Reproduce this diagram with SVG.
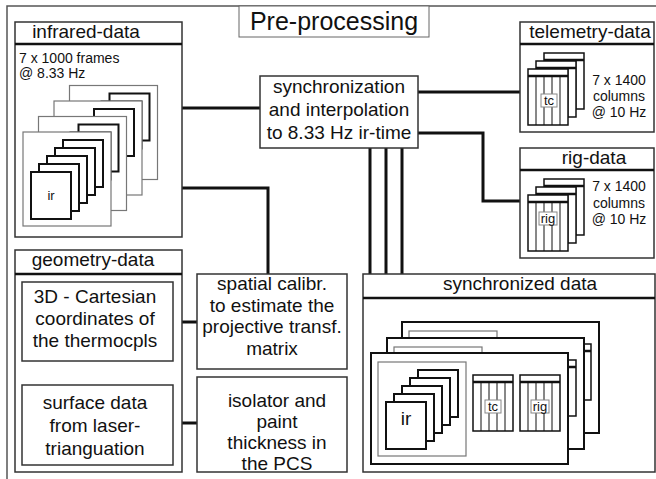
<svg xmlns="http://www.w3.org/2000/svg" xmlns:xlink="http://www.w3.org/1999/xlink" width="656" height="479" viewBox="0 0 656 479">
<style>
.box{fill:#fff;stroke:#333;stroke-width:1.5}
.hdr{stroke:#111;stroke-width:2.5}
.conn{stroke:#111;stroke-width:3;fill:none}
.gray{fill:#fff;stroke:#777;stroke-width:1.2}
.blk{fill:#fff;stroke:#111;stroke-width:2}
.sheet{fill:#fff;stroke:#111;stroke-width:1.5}
.col{stroke:#111;stroke-width:1}
.lab{fill:#fff;stroke:#888;stroke-width:1}
.t{font-family:"Liberation Sans",Arial,sans-serif;fill:#111}
.m{text-anchor:middle}
.f19{font-size:19px}
.f14{font-size:14px}
.f13{font-size:13px}
</style>
<defs>
<g id="irStack">
<rect class="gray" x="0" y="0" width="88" height="94"/>
<rect class="blk" x="40" y="8" width="40" height="47"/>
<rect class="blk" x="32" y="16" width="40" height="47"/>
<rect class="blk" x="24" y="24" width="40" height="47"/>
<rect class="blk" x="16" y="32" width="40" height="47"/>
<rect class="blk" x="8" y="40" width="40" height="47"/>
</g>
<g id="sheet">
<rect class="sheet" x="0" y="0" width="40" height="56"/>
<line class="hdr" x1="0" y1="7" x2="40" y2="7"/>
<path class="col" d="M8,7V56M16,7V56M24,7V56M32,7V56"/>
</g>
<g id="bigFrame">
<rect class="blk" x="0" y="0" width="197" height="111"/>
<use xlink:href="#irStack" x="7" y="9"/>
<use xlink:href="#sheet" x="102" y="22"/>
<use xlink:href="#sheet" x="149" y="22"/>
</g>
</defs>
<rect width="656" height="479" fill="#fff"/>
<path d="M7,479V6H656" fill="none" stroke="#555" stroke-width="1.5"/>

<g id="title">
<rect x="239" y="6" width="190" height="31" fill="#fff" stroke="#666" stroke-width="1"/>
<text class="t m" x="334" y="30" font-size="25">Pre-processing</text>
</g>

<g id="connectors">
<path class="conn" d="M182,108H260"/>
<path class="conn" d="M182,188H268V274"/>
<path class="conn" d="M418,92H520"/>
<path class="conn" d="M418,133H483V201H520"/>
<path class="conn" d="M370,148V274M386,148V274M402,148V274"/>
<path class="conn" d="M173,322H197"/>
<path class="conn" d="M173,423H197"/>
</g>

<g id="infrared-data">
<rect class="box" x="15" y="22" width="167" height="215"/>
<line class="hdr" x1="15" y1="44" x2="182" y2="44"/>
<text class="t m f19" x="86" y="38">infrared-data</text>
<text class="t f14" x="19" y="63">7 x 1000 frames</text>
<text class="t f14" x="19" y="78">@ 8.33 Hz</text>
<use xlink:href="#irStack" x="69.5" y="85.5"/>
<use xlink:href="#irStack" x="54" y="101"/>
<use xlink:href="#irStack" x="38.5" y="116.5"/>
<use xlink:href="#irStack" x="23" y="132"/>
<text class="t m f13" x="51" y="200">ir</text>
</g>

<g id="sync-process">
<rect class="box" x="260" y="76" width="158" height="72"/>
<text class="t m f19" x="339" y="93">synchronization</text>
<text class="t m f19" x="339" y="116">and interpolation</text>
<text class="t m f19" x="339" y="139">to 8.33 Hz ir-time</text>
</g>

<g id="telemetry-data">
<rect class="box" x="520" y="22" width="134" height="110"/>
<line class="hdr" x1="520" y1="44" x2="654" y2="44"/>
<text class="t m f19" x="590" y="38">telemetry-data</text>
<use xlink:href="#sheet" x="544" y="53"/>
<use xlink:href="#sheet" x="536" y="61"/>
<use xlink:href="#sheet" x="528" y="69"/>
<rect class="lab" x="541" y="94" width="16" height="13"/>
<text class="t m f13" x="549" y="105">tc</text>
<text class="t m f14" x="619" y="85">7 x 1400</text>
<text class="t m f14" x="619" y="101">columns</text>
<text class="t m f14" x="619" y="117">@ 10 Hz</text>
</g>

<g id="rig-data">
<rect class="box" x="520" y="148" width="134" height="110"/>
<line class="hdr" x1="520" y1="170" x2="654" y2="170"/>
<text class="t m f19" x="594" y="164">rig-data</text>
<use xlink:href="#sheet" x="544" y="179"/>
<use xlink:href="#sheet" x="536" y="187"/>
<use xlink:href="#sheet" x="528" y="195"/>
<rect class="lab" x="539" y="212" width="18" height="13"/>
<text class="t m f13" x="548" y="223">rig</text>
<text class="t m f14" x="619" y="191">7 x 1400</text>
<text class="t m f14" x="619" y="208">columns</text>
<text class="t m f14" x="619" y="224">@ 10 Hz</text>
</g>

<g id="geometry-data">
<rect class="box" x="15" y="250" width="167" height="222"/>
<line class="hdr" x1="15" y1="274" x2="182" y2="274"/>
<text class="t m f19" x="93" y="266">geometry-data</text>
</g>

<g id="cartesian">
<rect class="box" x="22" y="282" width="151" height="79"/>
<text class="t m f19" x="95" y="303">3D - Cartesian</text>
<text class="t m f19" x="95" y="325">coordinates of</text>
<text class="t m f19" x="95" y="347">the thermocpls</text>
</g>

<g id="surface">
<rect class="box" x="22" y="385" width="151" height="80"/>
<text class="t m f19" x="95" y="409">surface data</text>
<text class="t m f19" x="95" y="432">from laser-</text>
<text class="t m f19" x="95" y="455">trianguation</text>
</g>

<g id="spatial-calibr">
<rect class="box" x="197" y="274" width="150" height="95"/>
<text class="t m f19" x="272" y="290">spatial calibr.</text>
<text class="t m f19" x="272" y="312">to estimate the</text>
<text class="t m f19" x="272" y="333">projective transf.</text>
<text class="t m f19" x="272" y="355">matrix</text>
</g>

<g id="isolator">
<rect class="box" x="197" y="377" width="150" height="95"/>
<text class="t m f19" x="277" y="407">isolator and</text>
<text class="t m f19" x="277" y="428">paint</text>
<text class="t m f19" x="277" y="449">thickness in</text>
<text class="t m f19" x="277" y="470">the PCS</text>
</g>

<g id="synchronized-data">
<rect class="box" x="363" y="274" width="292" height="198"/>
<line class="hdr" x1="363" y1="298" x2="655" y2="298"/>
<text class="t m f19" x="520" y="290">synchronized data</text>
<use xlink:href="#bigFrame" x="402" y="322"/>
<use xlink:href="#bigFrame" x="387" y="338"/>
<use xlink:href="#bigFrame" x="371" y="353"/>
<text class="t m f19" x="406" y="425">ir</text>
<rect class="lab" x="485" y="400" width="16" height="13"/>
<text class="t m f13" x="493" y="411">tc</text>
<rect class="lab" x="531" y="400" width="18" height="13"/>
<text class="t m f13" x="540" y="411">rig</text>
</g>
</svg>
